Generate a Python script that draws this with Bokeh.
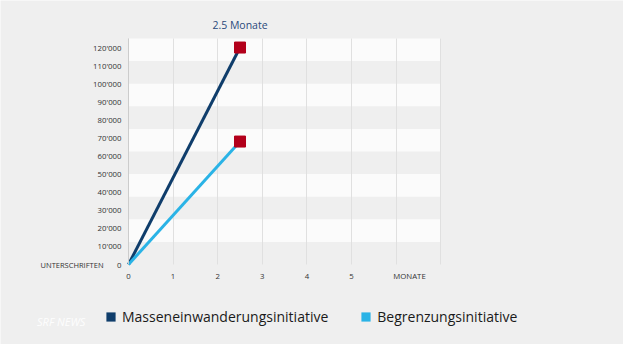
from bokeh.plotting import figure
from bokeh.models import (Range1d, FixedTicker, Legend, LegendItem, LinearAxis, Grid, Label)
from bokeh.embed import file_html
from bokeh.resources import INLINE

# ---- data ----
months = [0, 2.5]
mei_values = [0, 120000]
bgi_values = [0, 68000]
series_names = ["Masseneinwanderungsinitiative", "Begrenzungsinitiative"]
y_ticks = list(range(0, 120001, 10000))
y_tick_labels = {t: (f"{t // 1000}'000" if t else "0") for t in y_ticks}
x_ticks = [0, 1, 2, 3, 4, 5]
x_axis_name = "MONATE"
y_axis_name = "UNTERSCHRIFTEN"
title_text = "2.5 Monate"
watermark = "SRF NEWS"
x_max = 7
y_max = 125000
band_step = 12500

NAVY = "#0f3d6b"
LIGHT = "#2ab3e6"
RED = "#b3001b"
FONT = "Open Sans"

W, H = 623, 344
# page geometry: x=0 at page px 136, 44.6 px per month; y=0 at page px 272, 1.808 px per 1000
KX, KY = 44.6, 1.808 / 1000
x0_px, y0_px = 136 - 8, 272 - 8
x_range = Range1d(-x0_px / KX, (W - x0_px) / KX)
y_range = Range1d(-(H - y0_px) / KY, y0_px / KY)

p = figure(width=W, height=H, output_backend="svg", toolbar_location=None,
           x_range=x_range, y_range=y_range,
           x_axis_location=None, y_axis_location=None, min_border=0)
p.border_fill_color = "#efefef"
p.background_fill_color = "#efefef"
p.outline_line_color = None
p.xgrid.visible = False
p.ygrid.visible = False

# grids (alternating bands + vertical lines), bounded to the chart area
band_ticks = [0] + [band_step * i for i in range(0, 11)]  # leading 0 repeated to start with a grey band
band_grid = Grid(dimension=1, ticker=FixedTicker(ticks=band_ticks),
                 grid_line_color=None, band_fill_color="#fbfbfb", band_fill_alpha=1,
                 bounds=(0, y_max), cross_bounds=(0, x_max))
vgrid = Grid(dimension=0, ticker=FixedTicker(ticks=list(range(0, x_max + 1))),
             grid_line_color="#e0e0e0", bounds=(0, x_max), cross_bounds=(0, y_max))
p.add_layout(band_grid)
p.add_layout(vgrid)

# axes fixed at the origin
xaxis = LinearAxis(fixed_location=0, bounds=(0, x_max),
                   ticker=FixedTicker(ticks=x_ticks + [6.3]),
                   major_label_overrides={6.3: x_axis_name})
yaxis = LinearAxis(fixed_location=0, bounds=(0, y_max),
                   ticker=FixedTicker(ticks=y_ticks),
                   major_label_overrides=y_tick_labels)
for ax in (xaxis, yaxis):
    ax.major_tick_line_color = None
    ax.minor_tick_line_color = None
    ax.major_tick_out = 0
    ax.major_tick_in = 0
    ax.minor_tick_out = 0
    ax.minor_tick_in = 0
    ax.major_label_text_font = FONT
    ax.major_label_text_font_size = "7.8px"
    ax.major_label_text_color = "#333333"
xaxis.axis_line_color = None
yaxis.axis_line_color = "#cccccc"
xaxis.major_label_standoff = 6
yaxis.major_label_standoff = 7
p.add_layout(xaxis, "below")
p.add_layout(yaxis, "left")

# lines
p.line(months, mei_values, line_color=NAVY, line_width=3)
p.line(months, bgi_values, line_color=LIGHT, line_width=3)
p.scatter([months[-1]], [mei_values[-1]], marker="square", size=11, fill_color=RED, line_color=RED)
p.scatter([months[-1]], [bgi_values[-1]], marker="square", size=11, fill_color=RED, line_color=RED)

# texts
p.add_layout(Label(x=months[-1], y=132300, text=title_text, text_align="center",
                   text_baseline="middle", text_font=FONT, text_font_size="10.5px",
                   text_color="#2b4a7c"))
p.add_layout(Label(x=-0.56, y=0, text=y_axis_name, text_align="right",
                   text_baseline="middle", text_font=FONT, text_font_size="7.5px",
                   text_color="#333333"))
p.add_layout(Label(x=-2.05, y=-31500, text=watermark, text_align="left",
                   text_baseline="middle", text_font=FONT, text_font_size="11px",
                   text_font_style="italic", text_color="#ffffff", text_alpha=0.9))

# legend (square swatches; the swatch renderers draw nothing on the chart)
r1 = p.scatter(months, mei_values, marker="square", size=0, fill_color=NAVY, line_color=None)
r2 = p.scatter(months, bgi_values, marker="square", size=0, fill_color=LIGHT, line_color=None)
legend = Legend(items=[LegendItem(label=series_names[0], renderers=[r1]),
                       LegendItem(label=series_names[1], renderers=[r2])],
                location=(99, 16), orientation="horizontal",
                label_text_font=FONT, label_text_font_size="14px", label_text_color="#1a1a1a",
                glyph_width=23, glyph_height=23, label_standoff=0, spacing=26,
                padding=0, margin=0, border_line_color=None, background_fill_alpha=0,
                label_height=16)
p.add_layout(legend, "center")

open("out.html", "w").write(file_html(p, INLINE))
